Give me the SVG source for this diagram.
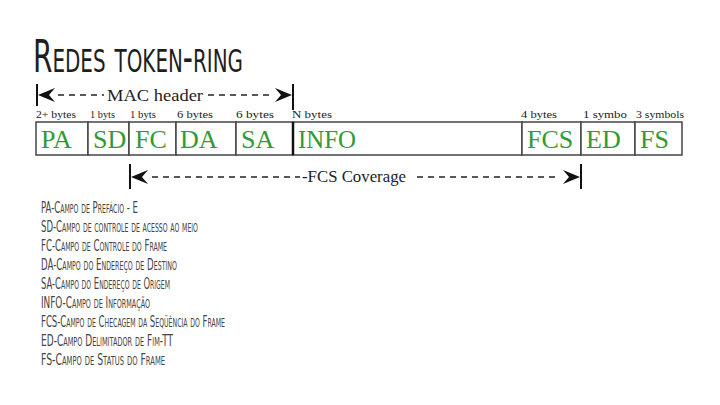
<svg xmlns="http://www.w3.org/2000/svg" width="720" height="405" viewBox="0 0 720 405">
<style>
.title{font-family:"DejaVu Sans Condensed","DejaVu Sans",sans-serif;font-variant:small-caps;font-size:45px;fill:#1e1e1e}
.desc{font-family:"DejaVu Sans Condensed","DejaVu Sans",sans-serif;font-variant:small-caps;font-size:16.5px;fill:#444}
.cell{fill:#fff;stroke:#444;stroke-width:1.5}
.fld{font-family:"Liberation Serif","Times New Roman",serif;font-size:26px;fill:#2e9b35}
.bytes{font-family:"Liberation Serif","Times New Roman",serif;font-size:11px;fill:#222}
.lbl{font-family:"Liberation Serif","Times New Roman",serif;font-size:17px;fill:#222}
.dash{stroke:#222;stroke-width:1.3;stroke-dasharray:6,5;fill:none}
.bar{stroke:#111;stroke-width:2;fill:none}
.head{fill:#111}
</style>
<rect width="720" height="405" fill="#fff"/>
<text class="title" x="33" y="72" textLength="210" lengthAdjust="spacingAndGlyphs">Redes token-ring</text>

<g id="connectors">
  <g id="mac-header">
    <line class="bar" x1="37" y1="84" x2="37" y2="106"/>
    <path class="head" d="M38,95 L55,88 L49,95 L55,102 Z"/>
    <line class="dash" x1="58" y1="95" x2="104" y2="95"/>
    <text class="lbl" x="107" y="101" textLength="96" lengthAdjust="spacingAndGlyphs">MAC header</text>
    <line class="dash" x1="208" y1="95" x2="272" y2="95"/>
    <path class="head" d="M292,95 L275,88 L281,95 L275,102 Z"/>
    <line class="bar" x1="293" y1="84" x2="293" y2="110"/>
  </g>
  <g id="fcs-coverage">
    <line class="bar" x1="130" y1="164" x2="130" y2="189"/>
    <path class="head" d="M131,177 L148,170 L142,177 L148,184 Z"/>
    <line class="dash" x1="152" y1="177" x2="300" y2="177"/>
    <text class="lbl" x="302" y="182" font-size="15" textLength="104" lengthAdjust="spacingAndGlyphs">-FCS Coverage</text>
    <line class="dash" x1="417" y1="177" x2="560" y2="177"/>
    <path class="head" d="M580,177 L563,170 L569,177 L563,184 Z"/>
    <line class="bar" x1="581" y1="164" x2="581" y2="189"/>
  </g>
</g>

<g id="PA"><rect class="cell" x="36" y="122" width="52" height="33"/><text class="bytes" x="36" y="118" textLength="40" lengthAdjust="spacingAndGlyphs">2+ bytes</text><text class="fld" x="41" y="148">PA</text></g>
<g id="SD"><rect class="cell" x="88" y="122" width="41" height="33"/><text class="bytes" x="90" y="118" textLength="25" lengthAdjust="spacingAndGlyphs">1 byts</text><text class="fld" x="93" y="148">SD</text></g>
<g id="FC"><rect class="cell" x="129" y="122" width="47" height="33"/><text class="bytes" x="130" y="118" textLength="26" lengthAdjust="spacingAndGlyphs">1 byts</text><text class="fld" x="135" y="148">FC</text></g>
<g id="DA"><rect class="cell" x="176" y="122" width="60" height="33"/><text class="bytes" x="177" y="118" textLength="36" lengthAdjust="spacingAndGlyphs">6 bytes</text><text class="fld" x="180" y="148">DA</text></g>
<g id="SA"><rect class="cell" x="236" y="122" width="57" height="33"/><text class="bytes" x="236" y="118" textLength="38" lengthAdjust="spacingAndGlyphs">6 bytes</text><text class="fld" x="241" y="148">SA</text></g>
<g id="INFO"><rect class="cell" x="293" y="122" width="229" height="33"/><line x1="293" y1="122" x2="293" y2="155" stroke="#111" stroke-width="2.5"/><text class="bytes" x="292" y="118" textLength="40" lengthAdjust="spacingAndGlyphs">N bytes</text><text class="fld" x="298" y="148" textLength="58" lengthAdjust="spacingAndGlyphs">INFO</text></g>
<g id="FCS"><rect class="cell" x="522" y="122" width="59" height="33"/><text class="bytes" x="521" y="118" textLength="36" lengthAdjust="spacingAndGlyphs">4 bytes</text><text class="fld" x="527" y="148">FCS</text></g>
<g id="ED"><rect class="cell" x="581" y="122" width="54" height="33"/><text class="bytes" x="583" y="118" textLength="44" lengthAdjust="spacingAndGlyphs">1 symbo</text><text class="fld" x="586" y="148">ED</text></g>
<g id="FS"><rect class="cell" x="635" y="122" width="47" height="33"/><text class="bytes" x="636" y="118" textLength="48" lengthAdjust="spacingAndGlyphs">3 symbols</text><text class="fld" x="640" y="148">FS</text></g>

<g id="legend">
<text class="desc" x="41" y="213" textLength="97" lengthAdjust="spacingAndGlyphs">PA-Campo de Prefácio - E</text>
<text class="desc" x="41" y="232" textLength="157" lengthAdjust="spacingAndGlyphs">SD-Campo de controle de acesso ao meio</text>
<text class="desc" x="41" y="251" textLength="126" lengthAdjust="spacingAndGlyphs">FC-Campo de Controle do Frame</text>
<text class="desc" x="41" y="270" textLength="136" lengthAdjust="spacingAndGlyphs">DA-Campo do Endereço de Destino</text>
<text class="desc" x="41" y="289" textLength="129" lengthAdjust="spacingAndGlyphs">SA-Campo do Endereço de Origem</text>
<text class="desc" x="41" y="308" textLength="109" lengthAdjust="spacingAndGlyphs">INFO-Campo de Informação</text>
<text class="desc" x="41" y="327" textLength="184" lengthAdjust="spacingAndGlyphs">FCS-Campo de Checagem da Seqüência do Frame</text>
<text class="desc" x="41" y="346" textLength="132" lengthAdjust="spacingAndGlyphs">ED-Campo Delimitador de Fim-TT</text>
<text class="desc" x="41" y="365" textLength="124" lengthAdjust="spacingAndGlyphs">FS-Campo de Status do Frame</text>
</g>
</svg>
